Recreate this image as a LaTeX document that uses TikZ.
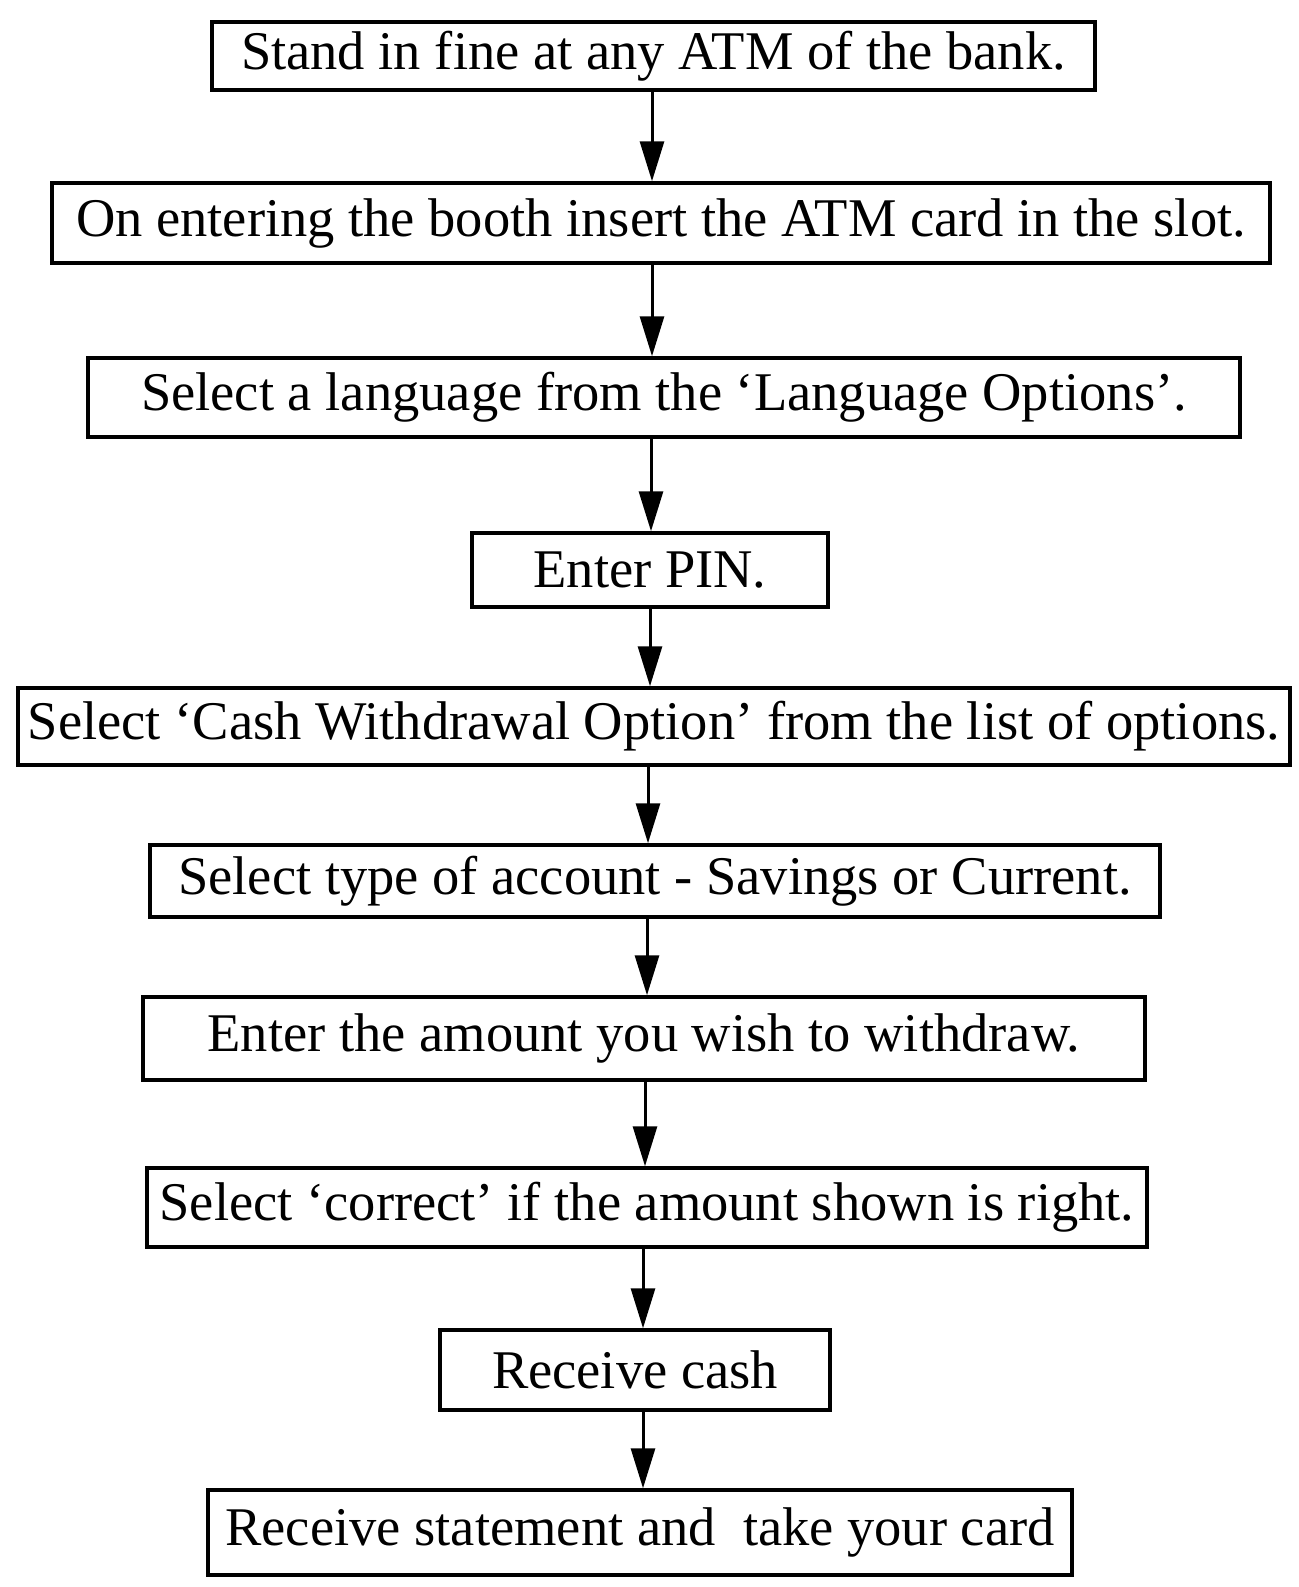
\documentclass[tikz,border=0pt]{standalone}
\usepackage{fontspec}
\setmainfont{Liberation Serif}
\usetikzlibrary{arrows.meta}
\begin{document}
\begin{tikzpicture}[x=1pt,y=-1pt,
  box/.style={draw=black, line width=3.5pt, inner sep=0pt, align=center,
    font=\fontsize{54.5}{62}\selectfont},
  arr/.style={line width=3pt, -{Triangle[length=40pt,width=24pt]}}]
\useasboundingbox[fill=white] (0,0) rectangle (1298,1587);
\node[box, minimum width=883, minimum height=68] (b1) at (653.5,56) {Stand in fine at any ATM of the bank.};
\node[box, minimum width=1218, minimum height=80] (b2) at (661,223) {On entering the booth insert the ATM card in the slot.};
\node[box, minimum width=1152, minimum height=79] (b3) at (664,397.5) {Select a language from the ‘Language Options’.};
\node[box, minimum width=356, minimum height=74] (b4) at (650,570) {Enter PIN.};
\node[box, minimum width=1272, minimum height=77] (b5) at (654,726.5) {Select ‘Cash Withdrawal Option’ from the list of options.};
\node[box, minimum width=1010, minimum height=72] (b6) at (655,881) {Select type of account - Savings or Current.};
\node[box, minimum width=1002, minimum height=83] (b7) at (644,1038.5) {Enter the amount you wish to withdraw.};
\node[box, minimum width=1000, minimum height=79] (b8) at (647,1207.5) {Select ‘correct’ if the amount shown is right.};
\node[box, minimum width=390, minimum height=80] (b9) at (635,1370) {Receive cash};
\node[box, minimum width=864, minimum height=85] (b10) at (640,1532.5) {Receive statement and\ \ take your card};
\draw[arr] (b1.south -| 652,0) -- (b2.north -| 652,0);
\draw[arr] (b2.south -| 652,0) -- (b3.north -| 652,0);
\draw[arr] (b3.south -| 651,0) -- (b4.north -| 651,0);
\draw[arr] (b4.south -| 650,0) -- (b5.north -| 650,0);
\draw[arr] (b5.south -| 648,0) -- (b6.north -| 648,0);
\draw[arr] (b6.south -| 647,0) -- (b7.north -| 647,0);
\draw[arr] (b7.south -| 645,0) -- (b8.north -| 645,0);
\draw[arr] (b8.south -| 643,0) -- (b9.north -| 643,0);
\draw[arr] (b9.south -| 643,0) -- (b10.north -| 643,0);
\end{tikzpicture}
\end{document}
